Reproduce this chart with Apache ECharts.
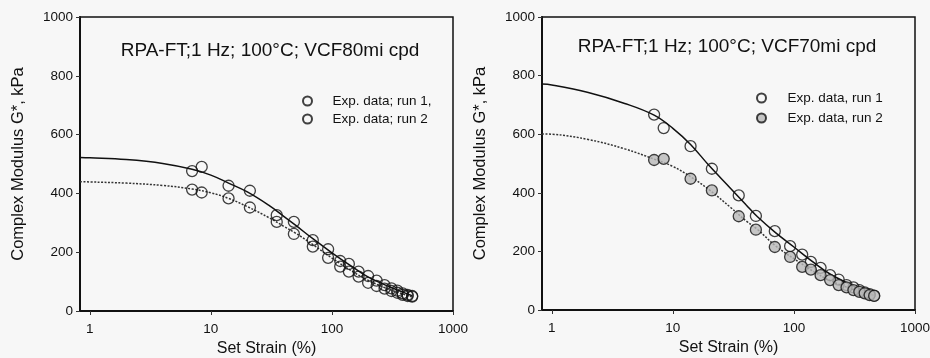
<!DOCTYPE html>
<html>
<head>
<meta charset="utf-8">
<script src="https://cdn.jsdelivr.net/npm/echarts@6/dist/echarts.min.js"></script>
<style>
  html, body { margin: 0; padding: 0; background: #f7f7f7; }
  #chart { width: 930px; height: 358px; }
</style>
</head>
<body>
<div id="chart"></div>
<script>
// 应变 (%)，两次试验共用
const strain = [7, 8.4, 14, 21, 35, 48.5, 69.5, 93, 117, 138, 166, 199, 234, 272, 310, 347, 384, 422, 460]
// 左图 VCF80mi
const leftRun1 = [476, 490, 426, 409, 326, 303, 241, 210, 170, 160, 134, 119, 103, 88, 77, 69, 60, 55, 51]
const leftRun2 = [413, 403, 383, 352, 303, 262, 219, 181, 151, 134, 117, 96, 85, 76, 68, 62, 55, 51, 49]
// 右图 VCF70mi
const rightRun1 = [667, 621, 559, 482, 391, 321, 269, 218, 189, 164, 144, 119, 104, 85, 77, 68, 60, 54, 49]
const rightRun2 = [512, 516, 448, 408, 320, 274, 215, 181, 147, 138, 119, 102, 85, 77, 68, 62, 57, 51, 48]
// 拟合曲线
const fitStrain = [0.83, 1, 2, 4, 7, 10, 14, 20, 30, 40, 50, 70, 100, 150, 200, 300, 460]
const leftFit1 = [522, 521, 515, 502, 482, 462, 435, 405, 360, 322, 292, 245, 198, 148, 115, 82, 52]
const leftFit2 = [440, 439, 435, 427, 415, 402, 383, 355, 318, 288, 265, 225, 180, 133, 104, 73, 48]
const rightFit1 = [771, 768, 742, 705, 665, 620, 565, 492, 415, 360, 318, 265, 215, 158, 122, 85, 50]
const rightFit2 = [601, 600, 582, 550, 515, 490, 455, 410, 350, 305, 275, 220, 175, 128, 100, 72, 48]
const xTicks = [1, 10, 100, 1000]
const yTicks = [0, 200, 400, 600, 800, 1000]

const titles = ['RPA-FT;1 Hz; 100°C; VCF80mi cpd', 'RPA-FT;1 Hz; 100°C; VCF70mi cpd']
const legendNames = [
    ['Exp. data; run 1,', 'Exp. data; run 2'],
    ['Exp. data, run 1', 'Exp. data, run 2']
]

const font = 'Liberation Sans, Arial, sans-serif'
const pair = (xs, ys) => xs.map((x, i) => [x, ys[i]])

const chart = echarts.init(document.getElementById('chart'))

const grids = [
    { left: 80, right: 477, top: 17, bottom: 47 },
    { left: 542, right: 15, top: 17, bottom: 48 }
]

const xAxis = grids.map((g, i) => ({
    type: 'log',
    logBase: 10,
    gridIndex: i,
    min: 0.83,
    max: 1000,
    name: 'Set Strain (%)',
    nameLocation: 'middle',
    nameGap: 29,
    nameTextStyle: { color: '#111', fontSize: 16, fontFamily: font },
    axisLine: { lineStyle: { color: '#111', width: 2 } },
    axisTick: { show: true, inside: false, length: 4, lineStyle: { color: '#333' } },
    minorTick: { show: false },
    splitLine: { show: false },
    axisLabel: {
        color: '#111', fontSize: 13.5, fontFamily: font, margin: 11,
        showMinLabel: false,
        formatter: v => xTicks.includes(Math.round(v)) ? String(Math.round(v)) : ''
    }
}))

const yAxis = grids.map((g, i) => ({
    type: 'value',
    gridIndex: i,
    min: 0,
    max: 1000,
    interval: 200,
    name: 'Complex Modulus G*, kPa',
    nameLocation: 'middle',
    nameGap: 53,
    nameTextStyle: { color: '#111', fontSize: 16.5, fontFamily: font },
    axisLine: { show: true, lineStyle: { color: '#111', width: 2 } },
    axisTick: { show: true, inside: false, length: 4, lineStyle: { color: '#333' } },
    splitLine: { show: false },
    axisLabel: {
        color: '#111', fontSize: 13.5, fontFamily: font, margin: 7,
        formatter: v => yTicks.includes(v) ? String(v) : ''
    }
}))

// 拟合线 + 散点
const makeSeries = (idx, fit1, fit2, run1, run2, run2Fill) => [
    {
        type: 'line', xAxisIndex: idx, yAxisIndex: idx,
        data: pair(fitStrain, fit1), smooth: 0.4, showSymbol: false,
        lineStyle: { color: '#111', width: 1.5 }, silent: true, z: 2
    },
    {
        type: 'line', xAxisIndex: idx, yAxisIndex: idx,
        data: pair(fitStrain, fit2), smooth: 0.4, showSymbol: false,
        lineStyle: { color: '#333', width: 1.5, type: [2, 1.5] }, silent: true, z: 2
    },
    {
        type: 'scatter', name: legendNames[idx][0], xAxisIndex: idx, yAxisIndex: idx,
        data: pair(strain, run1), symbol: 'circle', symbolSize: 11,
        itemStyle: { color: 'rgba(0,0,0,0)', borderColor: '#111', borderWidth: 1.3 }, z: 3
    },
    {
        type: 'scatter', name: legendNames[idx][1], xAxisIndex: idx, yAxisIndex: idx,
        data: pair(strain, run2), symbol: 'circle', symbolSize: 11,
        itemStyle: { color: run2Fill, borderColor: '#111', borderWidth: 1.3 }, z: 3
    }
]

const legendText = { fontSize: 13.5, color: '#111', fontFamily: font }

const option = {
    animation: false,
    backgroundColor: '#f7f7f7',
    title: [
        { text: titles[0], left: 265, top: 36, textAlign: 'center',
          textStyle: { fontSize: 19, fontWeight: 'normal', color: '#111', fontFamily: font } },
        { text: titles[1], left: 722, top: 32, textAlign: 'center',
          textStyle: { fontSize: 19, fontWeight: 'normal', color: '#111', fontFamily: font } }
    ],
    legend: [
        { data: legendNames[0], left: 297, top: 89, orient: 'vertical', itemWidth: 40, itemHeight: 9,
          itemGap: 4, textStyle: legendText, selectedMode: false },
        { data: legendNames[1], left: 751, top: 86, orient: 'vertical', itemWidth: 42, itemHeight: 9,
          itemGap: 6, textStyle: legendText, selectedMode: false }
    ],
    grid: grids.map(g => Object.assign({
        show: true, borderColor: '#111', borderWidth: 1.5, backgroundColor: 'transparent',
        containLabel: false, outerBoundsMode: 'none'
    }, g)),
    xAxis,
    yAxis,
    series: [
        ...makeSeries(0, leftFit1, leftFit2, leftRun1, leftRun2, 'rgba(0,0,0,0)'),
        ...makeSeries(1, rightFit1, rightFit2, rightRun1, rightRun2, '#b8b8b8')
    ]
}
chart.setOption(option)
</script>
</body>
</html>
